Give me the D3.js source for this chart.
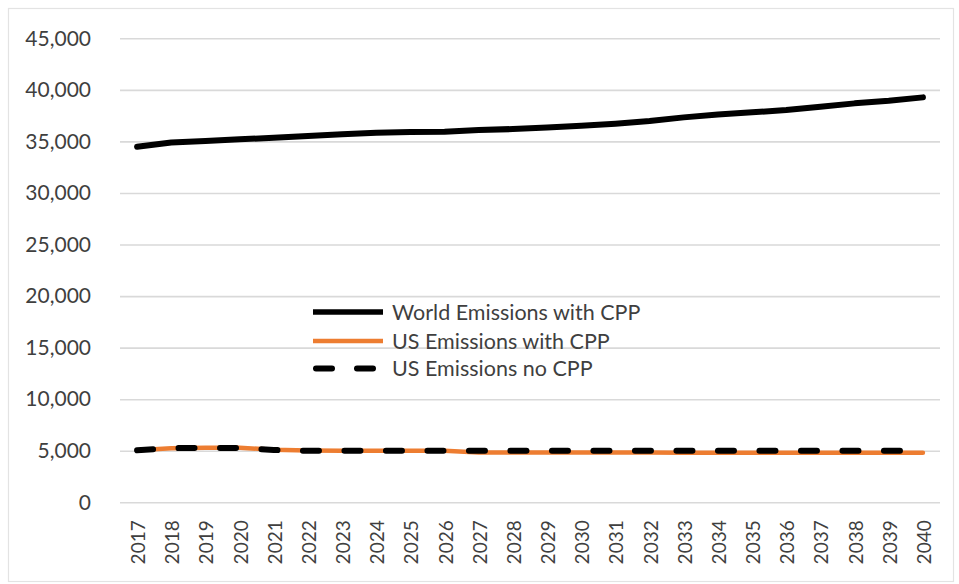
<!DOCTYPE html>
<html>
<head>
<meta charset="utf-8">
<script src="https://cdn.jsdelivr.net/npm/d3@7"></script>
<style>
  html, body { margin: 0; padding: 0; background: #ffffff; }
  svg { display: block; font-family: Lato, "Open Sans", "Liberation Sans", sans-serif; }
</style>
</head>
<body>
<svg id="chart" width="959" height="584"></svg>
<script>
// Emissions projections, 2017–2040
const years = [2017, 2018, 2019, 2020, 2021, 2022, 2023, 2024, 2025, 2026, 2027, 2028,
               2029, 2030, 2031, 2032, 2033, 2034, 2035, 2036, 2037, 2038, 2039, 2040];

const worldWithCPP = [34480, 34900, 35040, 35200, 35360, 35520, 35690, 35840, 35910, 35940, 36100, 36200,
                      36360, 36520, 36710, 36970, 37330, 37620, 37820, 38040, 38360, 38690, 38940, 39270];

const usWithCPP = [5050, 5250, 5290, 5290, 5100, 5020, 5000, 5000, 5000, 4990, 4840, 4830,
                   4830, 4820, 4820, 4820, 4810, 4810, 4810, 4800, 4800, 4800, 4800, 4800];

const usNoCPP = [5050, 5250, 5280, 5260, 5070, 5000, 5000, 5000, 5000, 5000, 4990, 4990,
                 4990, 4990, 5000, 5000, 5000, 5000, 5000, 5000, 5000, 5000, 5000, 5000];

const yTicks = [0, 5000, 10000, 15000, 20000, 25000, 30000, 35000, 40000, 45000];

const seriesNames = ["World Emissions with CPP", "US Emissions with CPP", "US Emissions no CPP"];

const svg = d3.select("#chart");
const textColor = "#3f3f3f";
const gridColor = "#d9d9d9";

// outer chart frame
svg.append("rect")
  .attr("x", 8.5).attr("y", 8.5)
  .attr("width", 945).attr("height", 573)
  .attr("fill", "none")
  .attr("stroke", "#e3e3e3")
  .attr("stroke-width", 1.2);

const plot = { left: 120, right: 940, top: 38.3, bottom: 502.3 };

const x = d3.scalePoint()
  .domain(years)
  .range([plot.left, plot.right])
  .padding(0.5);

const y = d3.scaleLinear()
  .domain([0, 45000])
  .range([plot.bottom, plot.top]);

// value axis with horizontal gridlines
const yAxis = svg.append("g")
  .attr("transform", `translate(${plot.left},0)`)
  .call(d3.axisLeft(y)
    .tickValues(yTicks)
    .tickFormat(d3.format(","))
    .tickSize(-(plot.right - plot.left))
    .tickPadding(29));
yAxis.select(".domain").remove();
yAxis.selectAll(".tick line")
  .attr("stroke", gridColor)
  .attr("stroke-width", 1.6);
yAxis.selectAll(".tick text")
  .attr("fill", textColor)
  .attr("font-size", 21)
  .attr("font-family", "Lato, sans-serif");

// category axis: rotated year labels
const xAxis = svg.append("g")
  .attr("transform", `translate(0,${plot.bottom})`)
  .call(d3.axisBottom(x).tickSize(0).tickPadding(0));
xAxis.select(".domain").remove();
xAxis.selectAll(".tick text")
  .attr("fill", textColor)
  .attr("font-size", 19)
  .attr("font-family", "Lato, sans-serif")
  .attr("text-anchor", "end")
  .attr("dy", null)
  .attr("transform", "translate(0,18) rotate(-90)")
  .attr("x", 0)
  .attr("y", 0)
  .attr("dominant-baseline", "central");

const line = d3.line()
  .x((d, i) => x(years[i]))
  .y(d => y(d));

svg.append("path")
  .datum(worldWithCPP)
  .attr("d", line)
  .attr("fill", "none")
  .attr("stroke", "#000000")
  .attr("stroke-width", 6)
  .attr("stroke-linecap", "round")
  .attr("stroke-linejoin", "round");

svg.append("path")
  .datum(usWithCPP)
  .attr("d", line)
  .attr("fill", "none")
  .attr("stroke", "#ED7D31")
  .attr("stroke-width", 4.5)
  .attr("stroke-linecap", "round")
  .attr("stroke-linejoin", "round");

svg.append("path")
  .datum(usNoCPP)
  .attr("d", line)
  .attr("fill", "none")
  .attr("stroke", "#000000")
  .attr("stroke-width", 6)
  .attr("stroke-dasharray", "16,25.5")
  .attr("stroke-linecap", "round")
  .attr("stroke-linejoin", "round");

// legend
const legendStyles = [
  { color: "#000000", width: 5.5, dash: null },
  { color: "#ED7D31", width: 4.5, dash: null },
  { color: "#000000", width: 6, dash: "16,25" }
];
const legend = svg.append("g").attr("transform", "translate(313,312)");
const rows = legend.selectAll("g")
  .data(seriesNames)
  .join("g")
  .attr("transform", (d, i) => `translate(0,${[0, 29, 56.5][i]})`);
rows.append("line")
  .attr("x1", (d, i) => i === 2 ? 3 : 0)
  .attr("x2", 70)
  .attr("y1", 0).attr("y2", 0)
  .attr("stroke", (d, i) => legendStyles[i].color)
  .attr("stroke-width", (d, i) => legendStyles[i].width)
  .attr("stroke-dasharray", (d, i) => legendStyles[i].dash)
  .attr("stroke-linecap", (d, i) => i === 2 ? "round" : "butt");
rows.append("text")
  .attr("x", 79)
  .attr("y", 0)
  .attr("dy", "0.35em")
  .attr("fill", textColor)
  .attr("font-size", 21.5)
  .attr("font-family", "Lato, sans-serif")
  .text(d => d);
</script>
</body>
</html>
